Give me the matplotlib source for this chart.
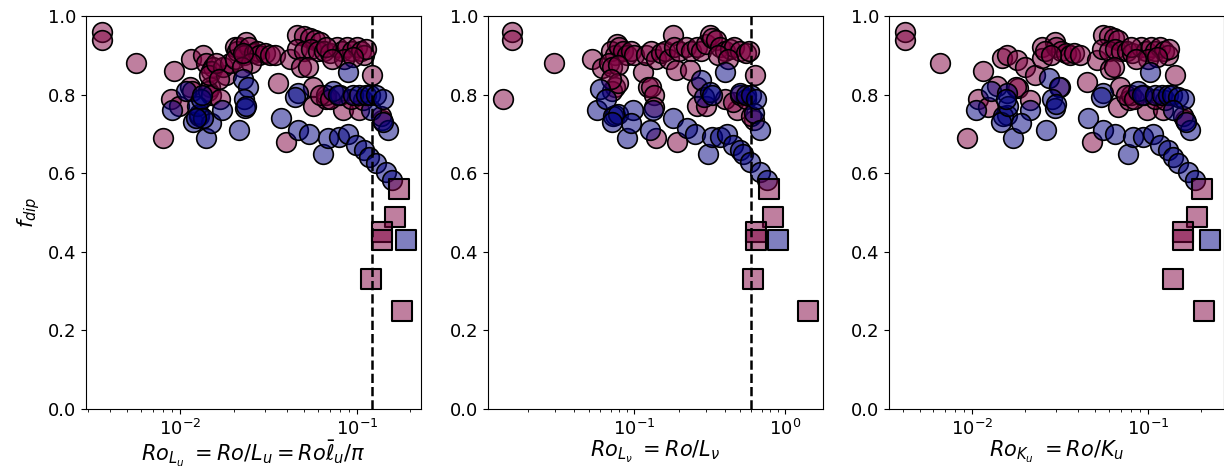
import matplotlib
matplotlib.use("Agg")
import matplotlib.pyplot as plt
from matplotlib.colors import to_rgba

# ---------------- data ----------------
# Panel 1 : Ro_{L_u}
p1_pink_x = [0.0036, 0.0036, 0.0056, 0.0080, 0.0092, 0.0088, 0.0098,
             0.0115, 0.0113, 0.0117, 0.0135, 0.0140, 0.0153, 0.0150, 0.0147, 0.0143, 0.0150, 0.0167,
             0.0145, 0.0182, 0.0175, 0.0190, 0.0160, 0.0165,
             0.0203, 0.0210, 0.0205, 0.0215, 0.0236, 0.0245, 0.0230, 0.0260, 0.0270, 0.0280, 0.0300,
             0.0320, 0.0250, 0.0222, 0.0225, 0.0345,
             0.0356, 0.0394, 0.0415,
             0.046, 0.050, 0.054, 0.058, 0.062, 0.046, 0.050, 0.055, 0.060, 0.065, 0.070,
             0.048, 0.0526, 0.0562, 0.0562, 0.0668, 0.067,
             0.077, 0.082, 0.088, 0.094, 0.100, 0.105, 0.110, 0.112, 0.085, 0.095, 0.0668, 0.072,
             0.083, 0.103, 0.1225, 0.1395, 0.136,
             0.062, 0.070, 0.080, 0.092, 0.108]
p1_pink_y = [0.96, 0.94, 0.88, 0.69, 0.86, 0.79, 0.77,
             0.89, 0.82, 0.81, 0.90, 0.88, 0.87, 0.86, 0.82, 0.81, 0.80, 0.79,
             0.85, 0.85, 0.87, 0.88, 0.88, 0.84,
             0.92, 0.91, 0.89, 0.92, 0.935, 0.92, 0.90, 0.905, 0.91, 0.90, 0.905,
             0.90, 0.88, 0.87, 0.905, 0.90,
             0.83, 0.68, 0.89,
             0.952, 0.95, 0.945, 0.94, 0.935, 0.915, 0.91, 0.915, 0.91, 0.91, 0.905,
             0.87, 0.87, 0.82, 0.77, 0.79, 0.80,
             0.92, 0.91, 0.92, 0.91, 0.92, 0.91, 0.90, 0.915, 0.89, 0.895, 0.92, 0.89,
             0.76, 0.76, 0.85, 0.735, 0.745,
             0.80, 0.79, 0.80, 0.79, 0.785]
p1_blue_x = [0.0090, 0.0108, 0.0118, 0.0128, 0.0128, 0.0125, 0.0130, 0.0132, 0.0139, 0.0150,
             0.0171, 0.0135, 0.0122,
             0.0226, 0.0240, 0.0228, 0.0232, 0.0214, 0.0235,
             0.0372, 0.0461, 0.0537, 0.064, 0.0683, 0.0794, 0.0886, 0.0987, 0.110, 0.1174, 0.128,
             0.146, 0.1586,
             0.0461, 0.0445, 0.0886, 0.120, 0.149, 0.140,
             0.073, 0.078, 0.095, 0.103, 0.112, 0.118, 0.128, 0.140]
p1_blue_y = [0.76, 0.81, 0.73, 0.75, 0.745, 0.77, 0.79, 0.80, 0.69, 0.727,
             0.76, 0.74, 0.74,
             0.84, 0.82, 0.79, 0.765, 0.71, 0.77,
             0.74, 0.71, 0.70, 0.65, 0.69, 0.693, 0.70, 0.672, 0.659, 0.642, 0.625,
             0.604, 0.583,
             0.803, 0.795, 0.858, 0.76, 0.71, 0.73,
             0.81, 0.80, 0.80, 0.80, 0.80, 0.80, 0.80, 0.79]
p1_sq_pink_x = [0.172, 0.164, 0.138, 0.138, 0.120, 0.181]
p1_sq_pink_y = [0.56, 0.489, 0.451, 0.430, 0.33, 0.249]
p1_sq_blue_x = [0.189]
p1_sq_blue_y = [0.43]
p1_vline = 0.121

# Panel 2 : Ro_{L_nu}
p2_pink_x = [0.0155, 0.0155, 0.0296, 0.0135, 0.0525, 0.0611, 0.0768,
             0.070, 0.075, 0.080, 0.085, 0.090, 0.095, 0.100, 0.068, 0.072, 0.078,
             0.075, 0.072, 0.078, 0.070,
             0.115, 0.120, 0.130, 0.140, 0.150, 0.160, 0.170, 0.180, 0.185, 0.190,
             0.1245, 0.130, 0.135, 0.135, 0.141, 0.194,
             0.20, 0.22, 0.24, 0.26, 0.28, 0.30, 0.318, 0.33, 0.35, 0.37, 0.40, 0.43, 0.46, 0.50,
             0.55, 0.58, 0.36, 0.42,
             0.26, 0.26, 0.30, 0.479, 0.632, 0.62, 0.60, 0.40, 0.45, 0.50, 0.55, 0.235]
p2_pink_y = [0.96, 0.94, 0.88, 0.79, 0.89, 0.867, 0.93,
             0.91, 0.90, 0.92, 0.91, 0.90, 0.91, 0.90, 0.88, 0.87, 0.875,
             0.82, 0.81, 0.83, 0.84,
             0.858, 0.90, 0.91, 0.89, 0.905, 0.91, 0.89, 0.952, 0.92, 0.863,
             0.82, 0.82, 0.80, 0.769, 0.689, 0.68,
             0.91, 0.92, 0.91, 0.92, 0.91, 0.93, 0.952, 0.945, 0.94, 0.92, 0.91, 0.915, 0.92, 0.91,
             0.905, 0.91, 0.90, 0.89,
             0.82, 0.77, 0.77, 0.76, 0.85, 0.735, 0.745, 0.79, 0.78, 0.80, 0.79, 0.863]
p2_blue_x = [0.0566, 0.060, 0.0749, 0.073, 0.078, 0.0895, 0.098, 0.095, 0.072, 0.065,
             0.1276, 0.133, 0.182, 0.223, 0.253, 0.31, 0.327, 0.372, 0.415, 0.455, 0.504,
             0.53, 0.586, 0.683, 0.756,
             0.28, 0.29, 0.32, 0.33, 0.40, 0.50, 0.55, 0.60, 0.62, 0.683, 0.64]
p2_blue_y = [0.761, 0.815, 0.748, 0.745, 0.75, 0.689, 0.761, 0.727, 0.731, 0.79,
             0.71, 0.761, 0.74, 0.714, 0.70, 0.649, 0.691, 0.693, 0.70, 0.672, 0.659,
             0.649, 0.629, 0.604, 0.583,
             0.837, 0.795, 0.807, 0.80, 0.858, 0.803, 0.80, 0.80, 0.752, 0.71, 0.79]
p2_sq_pink_x = [0.787, 0.836, 0.643, 0.643, 0.611, 1.42]
p2_sq_pink_y = [0.56, 0.489, 0.451, 0.430, 0.33, 0.249]
p2_sq_blue_x = [0.903]
p2_sq_blue_y = [0.43]
p2_vline = 0.596

# Panel 3 : Ro_{K_u}
p3_pink_x = [0.00413, 0.00413, 0.00654, 0.00936, 0.01146, 0.0108, 0.01225,
             0.01472, 0.01377, 0.0157, 0.0179, 0.0183, 0.0178, 0.01995, 0.0213, 0.0228,
             0.0249, 0.0250, 0.0296, 0.0316,
             0.030, 0.032, 0.034, 0.036, 0.038, 0.041, 0.026, 0.028,
             0.0449, 0.048, 0.0512,
             0.0559, 0.060, 0.064, 0.068, 0.055, 0.060, 0.065, 0.070, 0.076, 0.081,
             0.061, 0.064, 0.0695, 0.068, 0.078, 0.080,
             0.092, 0.098, 0.104, 0.110, 0.117, 0.123, 0.130, 0.133, 0.100, 0.113, 0.080, 0.086,
             0.099, 0.1229, 0.1432, 0.163, 0.158,
             0.075, 0.084, 0.095, 0.110, 0.125]
p3_pink_y = [0.96, 0.94, 0.88, 0.69, 0.86, 0.79, 0.768,
             0.892, 0.822, 0.90, 0.888, 0.816, 0.82, 0.871, 0.786, 0.85,
             0.922, 0.892, 0.935, 0.82,
             0.92, 0.91, 0.905, 0.90, 0.905, 0.90, 0.91, 0.90,
             0.833, 0.68, 0.888,
             0.952, 0.95, 0.945, 0.94, 0.915, 0.91, 0.915, 0.91, 0.91, 0.905,
             0.865, 0.87, 0.82, 0.769, 0.786, 0.80,
             0.92, 0.91, 0.92, 0.91, 0.92, 0.91, 0.90, 0.915, 0.89, 0.895, 0.92, 0.89,
             0.761, 0.761, 0.85, 0.735, 0.745,
             0.80, 0.79, 0.80, 0.79, 0.785]
p3_blue_x = [0.0105, 0.0128, 0.0157, 0.0157, 0.0150, 0.0170, 0.0213, 0.0190, 0.0145, 0.0160,
             0.0155, 0.0275, 0.031, 0.0285, 0.0295, 0.0262, 0.030,
             0.0455, 0.0559, 0.0652, 0.0775, 0.0828, 0.0944, 0.1076, 0.1175, 0.131, 0.140,
             0.1494, 0.170, 0.186,
             0.0559, 0.054, 0.1035, 0.088, 0.093, 0.110, 0.120, 0.130, 0.137, 0.148, 0.160,
             0.140, 0.174, 0.165]
p3_blue_y = [0.761, 0.81, 0.803, 0.748, 0.745, 0.689, 0.761, 0.727, 0.731, 0.77,
             0.79, 0.841, 0.82, 0.79, 0.765, 0.71, 0.775,
             0.74, 0.71, 0.70, 0.649, 0.691, 0.693, 0.70, 0.672, 0.659, 0.642,
             0.625, 0.604, 0.583,
             0.803, 0.795, 0.858, 0.81, 0.80, 0.80, 0.80, 0.80, 0.80, 0.795, 0.79,
             0.76, 0.71, 0.73]
p3_sq_pink_x = [0.203, 0.190, 0.1596, 0.1596, 0.139, 0.2094]
p3_sq_pink_y = [0.56, 0.489, 0.451, 0.430, 0.33, 0.249]
p3_sq_blue_x = [0.2264]
p3_sq_blue_y = [0.43]

xlims = [(0.00292, 0.2306), (0.0108, 1.786), (0.00335, 0.272)]
xlabels = [r'$Ro_{L_u}\ = Ro/L_u = Ro\bar{\ell}_u/\pi$',
           r'$Ro_{L_\nu}\ = Ro/L_\nu$',
           r'$Ro_{K_u}\ = Ro/K_u$']
yticks = [0.0, 0.2, 0.4, 0.6, 0.8, 1.0]

PINK = to_rgba('#800040', 0.5)
BLUE = to_rgba('#000080', 0.5)

W, H = 1224, 468
fig = plt.figure(figsize=(W / 100, H / 100), dpi=100)
lefts = [86, 488, 889]
pw = 335
bottom = (H - 409) / H
height = 393 / H

panels = [
    (p1_pink_x, p1_pink_y, p1_blue_x, p1_blue_y, p1_sq_pink_x, p1_sq_pink_y, p1_sq_blue_x, p1_sq_blue_y, p1_vline),
    (p2_pink_x, p2_pink_y, p2_blue_x, p2_blue_y, p2_sq_pink_x, p2_sq_pink_y, p2_sq_blue_x, p2_sq_blue_y, p2_vline),
    (p3_pink_x, p3_pink_y, p3_blue_x, p3_blue_y, p3_sq_pink_x, p3_sq_pink_y, p3_sq_blue_x, p3_sq_blue_y, None),
]

S = 200
LW = 1.2
for i, (px, py, bx, by, spx, spy, sbx, sby, vl) in enumerate(panels):
    ax = fig.add_axes([lefts[i] / W, bottom, pw / W, height])
    ax.scatter(px, py, s=S, facecolors=[PINK], edgecolors='black', linewidths=LW, marker='o', zorder=2)
    ax.scatter(bx, by, s=S, facecolors=[BLUE], edgecolors='black', linewidths=LW, marker='o', zorder=2)
    ax.scatter(spx, spy, s=S, facecolors=[PINK], edgecolors='black', linewidths=LW + 0.3, marker='s', zorder=3)
    ax.scatter(sbx, sby, s=S, facecolors=[BLUE], edgecolors='black', linewidths=LW + 0.3, marker='s', zorder=3)
    if vl is not None:
        ax.axvline(vl, color='black', linestyle='--', linewidth=1.8, zorder=4)
    ax.set_xscale('log')
    ax.set_xlim(*xlims[i])
    ax.set_ylim(0, 1.0)
    ax.set_yticks(yticks)
    ax.tick_params(labelsize=13)
    ax.set_xlabel(xlabels[i], fontsize=15, labelpad=0)
    if i == 0:
        ax.set_ylabel(r'$f_{dip}$', fontsize=15)

fig.savefig('out.png', dpi=100)
